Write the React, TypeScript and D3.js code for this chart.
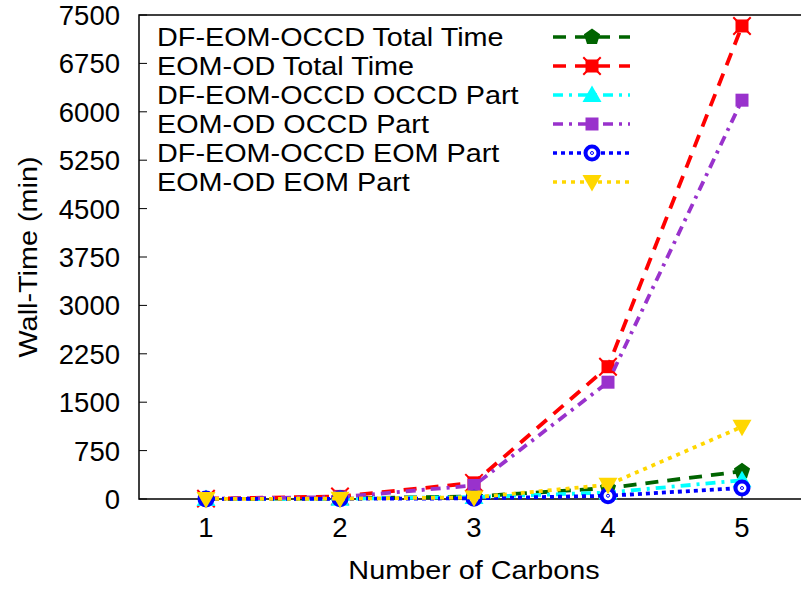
import React from "react";
import * as d3 from "d3";

const carbons = [1, 2, 3, 4, 5];
const dfTotal = [2, 8, 40, 170, 430];
const eomTotal = [5, 40, 250, 2050, 7330];
const dfOccd = [1, 5, 30, 100, 290];
const eomOccd = [4, 30, 210, 1810, 6180];
const dfEom = [1, 3, 10, 50, 170];
const eomEom = [1, 5, 25, 220, 1120];
const yTicks = [0, 750, 1500, 2250, 3000, 3750, 4500, 5250, 6000, 6750, 7500];
const seriesNames = [
  "DF-EOM-OCCD Total Time",
  "EOM-OD Total Time",
  "DF-EOM-OCCD OCCD Part",
  "EOM-OD OCCD Part",
  "DF-EOM-OCCD EOM Part",
  "EOM-OD EOM Part",
];

const W = 801, H = 589;
const L = 139, T = 15, B = 499;
const FONT = "'Liberation Sans', Arial, sans-serif";
const SX = 1.13;

type Style = { color: string; dash: string; marker: string };
const styles: Style[] = [
  { color: "#006400", dash: "13,9", marker: "pentagon" },
  { color: "#ff0000", dash: "13,9", marker: "blob" },
  { color: "#00ffff", dash: "10,6,3,6", marker: "triUp" },
  { color: "#9932cc", dash: "10,6,3,6", marker: "square" },
  { color: "#0000ff", dash: "4,4", marker: "circle" },
  { color: "#ffd700", dash: "4,5", marker: "triDown" },
];

function Marker({ kind, x, y, color }: { kind: string; x: number; y: number; color: string }) {
  if (kind === "pentagon") {
    const pts = d3.range(5).map((i) => {
      const a = -Math.PI / 2 + (i * 2 * Math.PI) / 5;
      return [x + 8.5 * Math.cos(a), y + 8.5 * Math.sin(a)].join(",");
    });
    return <polygon points={pts.join(" ")} fill={color} />;
  }
  if (kind === "blob") {
    return (
      <g fill={color}>
        <rect x={x - 6.5} y={y - 6.5} width={13} height={13} />
        <path d={d3.symbol(d3.symbolX, 200)() || ""} transform={`translate(${x},${y})`} stroke={color} strokeWidth={2} />
      </g>
    );
  }
  if (kind === "triUp") {
    return <polygon points={`${x},${y - 9.5} ${x - 9.5},${y + 7} ${x + 9.5},${y + 7}`} fill={color} />;
  }
  if (kind === "triDown") {
    return <polygon points={`${x},${y + 9.5} ${x - 9.5},${y - 7} ${x + 9.5},${y - 7}`} fill={color} />;
  }
  if (kind === "square") {
    return <rect x={x - 6.5} y={y - 6.5} width={13} height={13} fill={color} />;
  }
  return (
    <g>
      <circle cx={x} cy={y} r={6.5} fill="white" stroke={color} strokeWidth={4} />
      <circle cx={x} cy={y} r={1.5} fill="none" stroke={color} strokeWidth={1} />
    </g>
  );
}

export default function App() {
  const x = d3.scaleLinear().domain([0.5, 5.5]).range([L, 809]);
  const y = d3.scaleLinear().domain([0, 7500]).range([B, T]);
  const data = [dfTotal, eomTotal, dfOccd, eomOccd, dfEom, eomEom];
  const line = d3
    .line<number>()
    .x((_, i) => x(carbons[i]))
    .y((d) => y(d));
  const legendY = [37, 66, 95, 124, 153, 182];

  return (
    <svg width={W} height={H} style={{ position: "absolute", left: 0, top: 0, background: "white" }} fontFamily={FONT}>
      <rect width={W} height={H} fill="white" />
      <path d={`M${W},${T}H${L}V${B}H${W}`} fill="none" stroke="black" strokeWidth={1.5} />
      {yTicks.map((t) => (
        <g key={t}>
          <line x1={L} x2={L + 8} y1={y(t)} y2={y(t)} stroke="black" strokeWidth={1} />
          <text x={120} y={y(t) + 10} textAnchor="end" fontSize={27.5}>
            {t}
          </text>
        </g>
      ))}
      {carbons.map((c) => (
        <g key={c}>
          <line x1={x(c)} x2={x(c)} y1={B} y2={B - 8} stroke="black" strokeWidth={1} />
          <text x={x(c)} y={537} textAnchor="middle" fontSize={27.5}>
            {c}
          </text>
        </g>
      ))}
      <text transform={`translate(474,579) scale(${SX},1)`} textAnchor="middle" fontSize={25.5}>
        Number of Carbons
      </text>
      <text transform={`translate(37,${(T + B) / 2}) rotate(-90) scale(${SX},1)`} textAnchor="middle" fontSize={25.5}>
        Wall-Time (min)
      </text>
      {seriesNames.map((n, i) => (
        <g key={n}>
          <text transform={`translate(157,${legendY[i] + 9}) scale(${SX},1)`} fontSize={25.5}>
            {n}
          </text>
          <line x1={553} x2={630} y1={legendY[i]} y2={legendY[i]} stroke={styles[i].color} strokeWidth={3.5} strokeDasharray={styles[i].dash} />
          <Marker kind={styles[i].marker} x={592} y={legendY[i]} color={styles[i].color} />
        </g>
      ))}
      {data.map((d, i) => (
        <g key={i}>
          <path d={line(d) || ""} fill="none" stroke={styles[i].color} strokeWidth={3.8} strokeDasharray={styles[i].dash} />
          {d.map((v, j) => (
            <Marker key={j} kind={styles[i].marker} x={x(carbons[j])} y={y(v)} color={styles[i].color} />
          ))}
        </g>
      ))}
    </svg>
  );
}
